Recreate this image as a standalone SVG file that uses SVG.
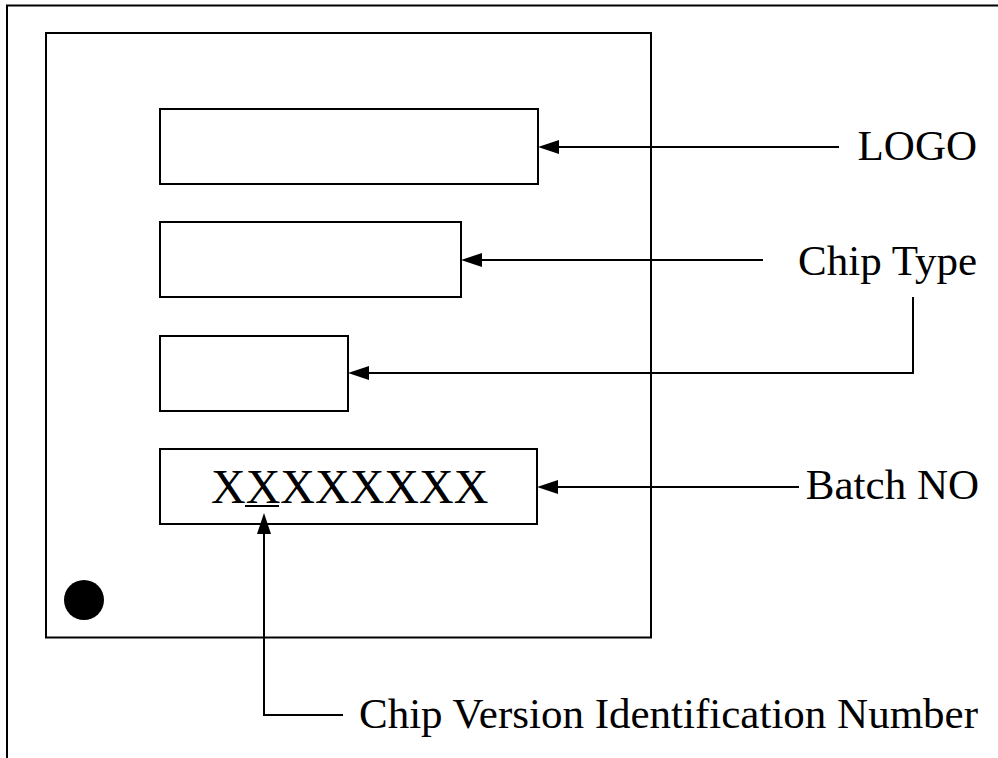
<svg xmlns="http://www.w3.org/2000/svg" width="998" height="758" viewBox="0 0 998 758">
<style>
.box{fill:#fff;stroke:#000;stroke-width:2}
.ln{fill:none;stroke:#000;stroke-width:2}
.lbl{font-family:"Liberation Serif","Times New Roman",serif;font-size:43px;fill:#000}
</style>
<defs>
<marker id="ah" viewBox="0 0 21 14" refX="0" refY="7" markerWidth="21" markerHeight="14" markerUnits="userSpaceOnUse" orient="auto-start-reverse">
<path d="M0,0 L21,7 L0,14 Z" fill="#000"/>
</marker>
</defs>
<rect width="998" height="758" fill="#fff"/>
<g id="frame"><rect x="7" y="5.5" width="1010" height="780" class="ln"/></g>
<g id="chip"><rect x="46" y="33" width="605" height="604.5" class="box"/><circle cx="84" cy="600" r="20" fill="#000"/></g>
<g id="logo-box"><rect x="160" y="109" width="378" height="75" class="box"/></g>
<g id="type-box"><rect x="160" y="222" width="301" height="75" class="box"/></g>
<g id="small-box"><rect x="160" y="336" width="188" height="75" class="box"/></g>
<g id="batch-box"><rect x="160" y="449" width="377" height="75" class="box"/>
<text x="211" y="503" class="lbl" style="font-size:48px">XXXXXXXX</text>
<line x1="245" y1="506" x2="279" y2="506" stroke="#000" stroke-width="2"/></g>
<g id="connectors">
<path d="M839,147 H559" class="ln" marker-end="url(#ah)"/>
<path d="M763,260 H482" class="ln" marker-end="url(#ah)"/>
<path d="M913,297 V373 H369" class="ln" marker-end="url(#ah)"/>
<path d="M799,487 H558" class="ln" marker-end="url(#ah)"/>
<path d="M343,715 H264 V534" class="ln" marker-end="url(#ah)"/>
</g>
<g id="labels">
<text x="977" y="160" class="lbl" text-anchor="end">LOGO</text>
<text x="977" y="275" class="lbl" text-anchor="end">Chip Type</text>
<text x="979" y="499" class="lbl" text-anchor="end">Batch NO</text>
<text x="978" y="728" class="lbl" text-anchor="end">Chip Version Identification Number</text>
</g>
</svg>
